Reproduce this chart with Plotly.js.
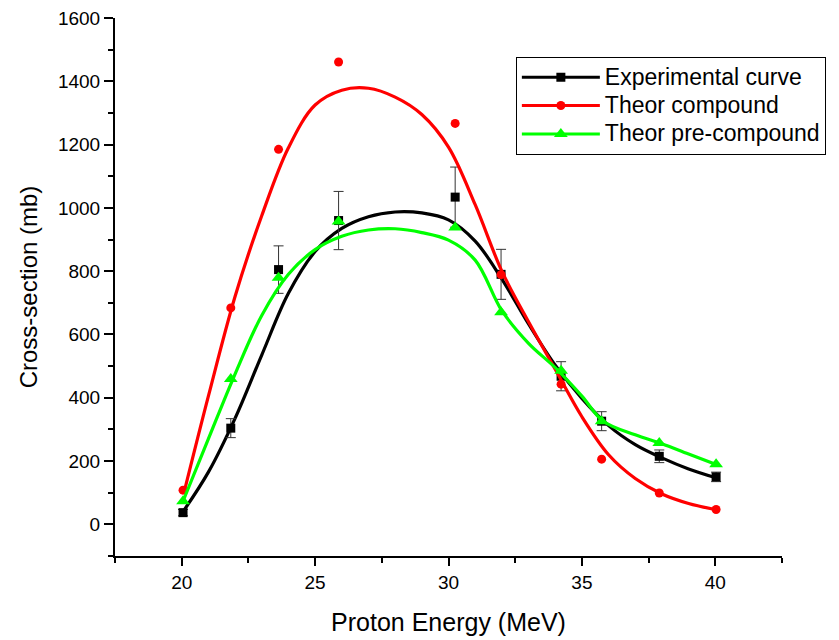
<!DOCTYPE html>
<html>
<head>
<meta charset="utf-8">
<script src="https://cdn.plot.ly/plotly-3.0.1.min.js"></script>
<style>html,body{margin:0;padding:0;background:#fff;}#chart{width:839px;height:640px;}</style>
</head>
<body>
<div id="chart"></div>
<script>
// Measured data points
const energyX = [20.05, 21.84, 23.63, 25.88, 30.25, 31.97, 34.22, 35.74, 37.9, 40.03];
const expY = [37, 304, 805, 960, 1034, 790, 468, 326, 215, 150];
const expErr = [10, 30, 75, 92, 95, 79, 46, 30, 20, 15];
const compY = [108, 684, 1185, 1461, 1267, 789, 443, 206, 99, 47];
const preY = [73, 459, 779, 957, 938, 670, 485, 326, 257, 190];

// Smoothed fit curves
const expFitX = [20.05, 21, 22, 23, 24, 25, 26, 27, 28, 29, 30, 31, 32, 33, 34, 35, 36, 37, 38, 39, 40.03];
const expFitY = [40, 165, 335, 535, 730, 862, 935, 972, 987, 984, 962, 895, 775, 633, 503, 398, 312, 252, 210, 175, 147];
const compFitX = [20.1, 21, 22, 23, 24, 25, 26, 27, 28, 29, 30, 31, 32, 33, 34, 35, 36, 37, 38, 39, 40];
const compFitY = [105, 405, 720, 975, 1190, 1325, 1372, 1378, 1350, 1295, 1192, 1010, 800, 640, 490, 340, 220, 145, 96, 66, 47];
const preFitX = [20.05, 21, 22, 23, 24, 25, 26, 27, 28, 29, 30, 31, 32, 33, 34, 35, 35.8, 37, 38, 39, 40.03];
const preFitY = [73, 270, 475, 660, 790, 868, 910, 930, 934, 922, 898, 835, 675, 572, 495, 405, 326, 283, 255, 222, 189];

const names = ['Experimental curve', 'Theor compound', 'Theor pre-compound'];
const colors = ['#000000', '#ff0000', '#00ff00'];
const symbols = ['square', 'circle', 'triangle-up'];
const msizes = [9, 9, 12];

const F = 'Liberation Sans, Arial, sans-serif';

const traces = [
  {x: expFitX, y: expFitY, mode: 'lines', line: {color: colors[0], width: 3.2, shape: 'spline', smoothing: 1}, showlegend: false, hoverinfo: 'skip'},
  {x: energyX, y: expY, mode: 'markers', marker: {symbol: symbols[0], size: msizes[0], color: colors[0]},
   error_y: {type: 'data', array: expErr, visible: true, color: '#333333', thickness: 1, width: 5}, showlegend: false},
  {x: compFitX, y: compFitY, mode: 'lines', line: {color: colors[1], width: 3.2, shape: 'spline', smoothing: 1}, showlegend: false, hoverinfo: 'skip'},
  {x: energyX, y: compY, mode: 'markers', marker: {symbol: symbols[1], size: msizes[1], color: colors[1]}, showlegend: false},
  {x: preFitX, y: preFitY, mode: 'lines', line: {color: colors[2], width: 3.2, shape: 'spline', smoothing: 1}, showlegend: false, hoverinfo: 'skip'},
  {x: energyX, y: preY, mode: 'markers', marker: {symbol: symbols[2], size: msizes[2], color: colors[2]}, showlegend: false}
];
for (let i = 0; i < 3; i++) {
  traces.push({x: [null], y: [null], name: '<span style="font-size:23px">' + names[i] + '</span>', mode: 'lines+markers',
    line: {color: colors[i], width: 3}, marker: {symbol: symbols[i], size: msizes[i], color: colors[i]}});
}

const layout = {
  width: 839, height: 640,
  margin: {l: 115, r: 57, t: 18, b: 84},
  paper_bgcolor: '#ffffff', plot_bgcolor: '#ffffff',
  font: {family: F, color: '#000', size: 19},
  showlegend: true,
  legend: {x: 0.601, y: 0.9275, xanchor: 'left', yanchor: 'top', bordercolor: '#000', borderwidth: 1,
    bgcolor: '#fff', font: {family: F, size: 19.5, color: '#000'}, itemwidth: 78},
  xaxis: {
    range: [17.5, 42.5], tick0: 0, dtick: 5, ticks: 'outside', ticklen: 8, tickwidth: 2, tickcolor: '#000',
    showline: true, linewidth: 2, linecolor: '#000', showgrid: false, zeroline: false, mirror: false,
    minor: {dtick: 2.5, ticks: 'outside', ticklen: 5, tickwidth: 2, tickcolor: '#000', showgrid: false},
    tickfont: {family: F, size: 19, color: '#000'},
    title: {text: 'Proton Energy (MeV)', font: {family: F, size: 25, color: '#000'}, standoff: 22}
  },
  yaxis: {
    range: [-100, 1600], tick0: 0, dtick: 200, ticks: 'outside', ticklen: 9, tickwidth: 2, tickcolor: '#000',
    showline: true, linewidth: 2, linecolor: '#000', showgrid: false, zeroline: false, mirror: false,
    minor: {dtick: 100, ticks: 'outside', ticklen: 5, tickwidth: 2, tickcolor: '#000', showgrid: false},
    tickfont: {family: F, size: 19, color: '#000'},
    title: {text: 'Cross-section (mb)', font: {family: F, size: 24, color: '#000'}, standoff: 14}
  }
};

Plotly.newPlot('chart', traces, layout, {displayModeBar: false, staticPlot: true});
</script>
</body>
</html>
